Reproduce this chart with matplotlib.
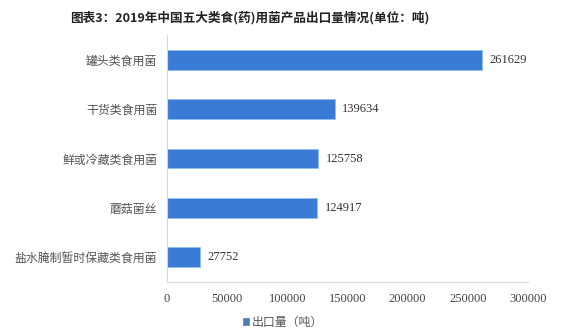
import numpy as np
import matplotlib.pyplot as plt

plt.rcParams['font.family'] = ['Noto Sans CJK SC', 'DejaVu Sans']

# Export volume of edible fungi by category, 2019 (tons)
categories = ['罐头类食用菌', '干货类食用菌', '鲜或冷藏类食用菌', '蘑菇菌丝', '盐水腌制暂时保藏类食用菌']
volumes = [261629, 139634, 125758, 124917, 27752]
xticks = [0, 50000, 100000, 150000, 200000, 250000, 300000]

bar_color = '#3a7bd6'

fig = plt.figure(figsize=(5.76, 3.36), dpi=100)
ax = fig.add_axes([167 / 576, 1 - 282 / 336, 361 / 576, 247 / 336])

y = np.arange(len(categories))
bars = ax.barh(y, volumes, height=0.4, color=bar_color, edgecolor='#8fc3f0', linewidth=0.5,
               label='出口量（吨）')
ax.set_ylim(len(categories) - 0.5, -0.5)
ax.set_xlim(0, 300000)

# value labels to the right of each bar
for yi, v in zip(y, volumes):
    ax.text(v + 6000, yi, str(v), va='center', ha='left', fontsize=9,
            family='Liberation Serif', color='#333333')

ax.set_yticks(y)
ax.set_yticklabels(categories, fontsize=8.6, color='#555555')
ax.set_xticks(xticks)
ax.set_xticklabels([str(t) for t in xticks], fontsize=9, family='Liberation Serif', color='#444444')
ax.tick_params(axis='y', length=0, pad=7)
ax.tick_params(axis='x', length=0, pad=8)

for side in ['top', 'right']:
    ax.spines[side].set_visible(False)
ax.spines['left'].set_color('#d9d9d9')
ax.spines['bottom'].set_color('#d9d9d9')
ax.spines['left'].set_linewidth(0.8)
ax.spines['bottom'].set_linewidth(0.8)

fig.text(250 / 576, 1 - 18 / 336, '图表3：2019年中国五大类食(药)用菌产品出口量情况(单位：吨)',
         ha='center', va='center', fontsize=9.1, fontweight='bold', color='#222222')

fig.legend(handles=[bars], labels=['出口量（吨）'], loc='center', bbox_to_anchor=(283 / 576, 1 - 322 / 336),
           frameon=False, fontsize=8.6, handlelength=0.5, handleheight=0.5, handletextpad=0.2,
           labelcolor='#555555')
fig.legends[0].legend_handles[0].set_color('#4f7fb8')

fig.savefig('out.png', dpi=100)
